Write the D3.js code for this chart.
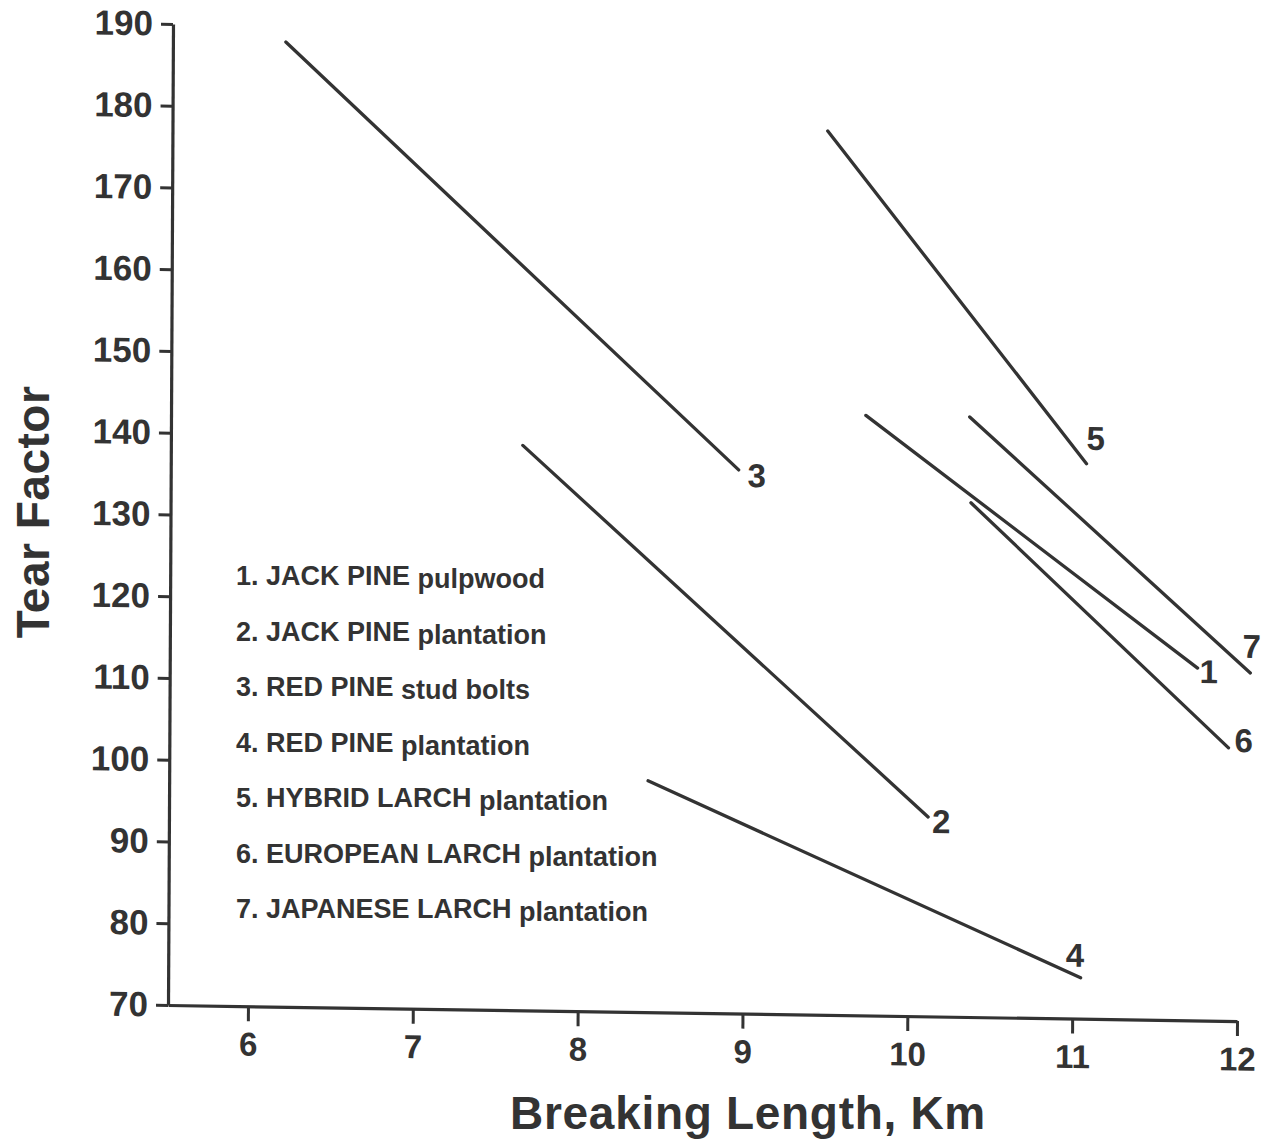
<!DOCTYPE html>
<html>
<head>
<meta charset="utf-8">
<script src="https://cdn.jsdelivr.net/npm/d3@7"></script>
<style>
  body { margin: 0; background: #fff; }
  svg { display: block; }
  text { font-family: "Liberation Sans", Arial, sans-serif; font-weight: bold; fill: #333; }
</style>
</head>
<body>
<svg width="1277" height="1146"></svg>
<script>
// tick values
var xTicks = [6, 7, 8, 9, 10, 11, 12];
var yTicks = [70, 80, 90, 100, 110, 120, 130, 140, 150, 160, 170, 180, 190];

// series (each one is a straight line)
var seriesIds = ["1", "2", "3", "4", "5", "6", "7"];
var species = ["JACK PINE", "JACK PINE", "RED PINE", "RED PINE", "HYBRID LARCH", "EUROPEAN LARCH", "JAPANESE LARCH"];
var sources = ["pulpwood", "plantation", "stud bolts", "plantation", "plantation", "plantation", "plantation"];
var startX = [9.73, 7.65, 6.20, 8.42, 9.49, 10.37, 10.36];
var startY = [143.4, 139.1, 188.0, 98.3, 178.1, 132.9, 143.4];
var endX = [11.75, 10.12, 8.96, 11.05, 11.07, 11.94, 12.07];
var endY = [113.1, 94.4, 136.5, 75.0, 137.9, 103.4, 112.6];

// where each number label sits relative to its line end (px)
var labelOffset = [[2, 15], [4, 16], [9, 17], [-15, -11], [0, -14], [6, 4], [-8, -15]];

var ink = "#333";
var svg = d3.select("svg");

// the original scan is slightly skewed, so the plot frame is too
var plot = svg.append("g")
  .attr("transform", "matrix(1,0.015,-0.0051,1,168,1005)");

var x = d3.scaleLinear().domain([5.515, 12]).range([0, 1069]);
var y = d3.scaleLinear().domain([70, 190]).range([0, -981]);

var xAxis = plot.append("g")
  .call(d3.axisBottom(x).tickValues(xTicks).tickSize(15).tickSizeOuter(0).tickPadding(11).tickFormat(d3.format("d")));
var yAxis = plot.append("g")
  .call(d3.axisLeft(y).tickValues(yTicks).tickSize(12).tickSizeOuter(0).tickPadding(8).tickFormat(d3.format("d")));

[xAxis, yAxis].forEach(function(a) {
  a.select(".domain").attr("stroke", ink).attr("stroke-width", 3.2);
  a.selectAll(".tick line").attr("stroke", ink).attr("stroke-width", 3);
  a.selectAll("text").attr("fill", ink).style("font-family", '"Liberation Sans", Arial, sans-serif').style("font-weight", "bold");
});
xAxis.selectAll("text").style("font-size", "33px");
yAxis.selectAll("text").style("font-size", "35px");

var lines = plot.selectAll(".series")
  .data(seriesIds)
  .enter()
  .append("line")
    .attr("class", "series")
    .attr("x1", function(d, i) { return x(startX[i]); })
    .attr("y1", function(d, i) { return y(startY[i]); })
    .attr("x2", function(d, i) { return x(endX[i]); })
    .attr("y2", function(d, i) { return y(endY[i]); })
    .attr("stroke", ink)
    .attr("stroke-width", 3.3)
    .attr("stroke-linecap", "round");

plot.selectAll(".num")
  .data(seriesIds)
  .enter()
  .append("text")
    .attr("class", "num")
    .attr("x", function(d, i) { return x(endX[i]) + labelOffset[i][0]; })
    .attr("y", function(d, i) { return y(endY[i]) + labelOffset[i][1]; })
    .style("font-size", "33px")
    .text(function(d) { return d; });

// legend
var legend = svg.append("g");
seriesIds.forEach(function(d, i) {
  var t = legend.append("text")
    .attr("x", 236)
    .attr("y", 585 + i * 55.5)
    .style("font-size", "27px");
  t.append("tspan").text(d + ". " + species[i] + " ");
  t.append("tspan").attr("dy", 3).text(sources[i]);
});

// axis titles
svg.append("text")
  .attr("transform", "translate(49,512) rotate(-90)")
  .attr("text-anchor", "middle")
  .style("font-size", "46px")
  .style("letter-spacing", "0.5px")
  .text("Tear Factor");

svg.append("text")
  .attr("x", 748)
  .attr("y", 1129)
  .attr("text-anchor", "middle")
  .style("font-size", "46px")
  .style("letter-spacing", "0.7px")
  .text("Breaking Length, Km");
</script>
</body>
</html>
